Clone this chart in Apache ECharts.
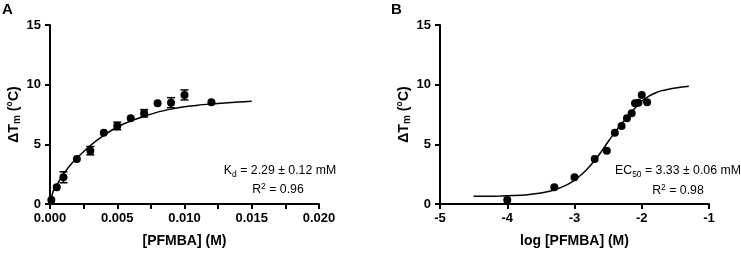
<!DOCTYPE html>
<html><head><meta charset="utf-8">
<script src="https://cdn.jsdelivr.net/npm/echarts@6/dist/echarts.min.js"></script>
<style>html,body{margin:0;padding:0;background:#fff}#c{width:741px;height:255px}</style>
</head><body><div id="c"></div>
<script>
// Panel A: concentration (M) vs ΔTm
const aConc = [0.0001, 0.0005, 0.001, 0.002, 0.003, 0.004, 0.005, 0.006, 0.007, 0.008, 0.009, 0.010, 0.012];
const aDTm  = [0.34, 1.40, 2.24, 3.77, 4.47, 5.98, 6.54, 7.18, 7.60, 8.44, 8.49, 9.14, 8.52];
const aErr  = [0, 0, 0.46, 0, 0.35, 0, 0.32, 0, 0.31, 0, 0.42, 0.42, 0];
// Panel A fitted curve
const aFitX = [0, 0.00025, 0.0005, 0.001, 0.0015, 0.002, 0.003, 0.004, 0.005, 0.006, 0.007, 0.008, 0.009, 0.010, 0.011, 0.012, 0.013, 0.014, 0.015];
const aFitY = [0, 1.1, 1.6, 2.5, 3.25, 3.85, 4.9, 5.75, 6.45, 6.95, 7.35, 7.7, 7.95, 8.15, 8.28, 8.38, 8.47, 8.54, 8.6];
// Panel B: log concentration vs ΔTm
const bLog = [-4.0, -3.30, -3.00, -2.70, -2.52, -2.40, -2.30, -2.22, -2.15, -2.10, -2.05, -2.00, -1.92];
const bDTm = [0.34, 1.40, 2.24, 3.77, 4.47, 5.98, 6.54, 7.18, 7.60, 8.44, 8.49, 9.14, 8.52];
// Panel B fitted curve
const bFitX = [-4.5, -4.3, -4.1, -3.9, -3.7, -3.5, -3.3, -3.1, -3.0, -2.9, -2.8, -2.7, -2.6, -2.5, -2.4, -2.3, -2.2, -2.1, -2.0, -1.9, -1.8, -1.7, -1.6, -1.5, -1.4, -1.3];
const bFitY = [0.64, 0.65, 0.67, 0.71, 0.78, 0.92, 1.18, 1.65, 2.01, 2.45, 3.0, 3.64, 4.4, 5.22, 6.0, 6.72, 7.4, 8.05, 8.62, 9.02, 9.3, 9.5, 9.62, 9.72, 9.8, 9.86];
// Tick settings
const yTicks = {min: 0, max: 15, interval: 5};
const aXTicks = {min: 0, max: 0.02, interval: 0.0025, labelEvery: 0.005};
const bXTicks = {min: -5, max: -1, interval: 1};

const FONT = 'Liberation Sans, Arial, sans-serif';
const axisLineStyle = {show: true, lineStyle: {color: '#000', width: 2}};
const tickStyle = {show: true, inside: false, length: 5, lineStyle: {color: '#000', width: 2}};
const labelStyle = {color: '#000', fontFamily: FONT, fontWeight: 'bold', fontSize: 13};
const nameStyleBase = {color: '#000', fontFamily: FONT, fontWeight: 'bold', fontSize: 14};
const yName = '{b|ΔT}{s|m}{b| (°C)}';
const yRich = {
  b: {fontFamily: FONT, fontWeight: 'bold', fontSize: 14, color: '#000', lineHeight: 16, verticalAlign: 'middle'},
  s: {fontFamily: FONT, fontWeight: 'bold', fontSize: 10, color: '#000', lineHeight: 10, verticalAlign: 'bottom'}
};

function yAxis(gi) {
  return {
    type: 'value', gridIndex: gi, min: yTicks.min, max: yTicks.max, interval: yTicks.interval,
    axisLine: axisLineStyle, axisTick: tickStyle, splitLine: {show: false},
    axisLabel: Object.assign({margin: 9}, labelStyle),
    name: yName, nameLocation: 'middle', nameGap: 27, nameRotate: 90,
    nameTextStyle: Object.assign({rich: yRich}, nameStyleBase)
  };
}

function annot(cx, cy, txt) {
  return {
    type: 'text', x: cx, y: cy, z: 10,
    style: {
      text: txt, align: 'center', verticalAlign: 'middle', fill: '#000',
      rich: {
        n: {fontFamily: FONT, fontSize: 12.3, color: '#000', lineHeight: 16, verticalAlign: 'middle'},
        s: {fontFamily: FONT, fontSize: 8.5, color: '#000', lineHeight: 9, verticalAlign: 'bottom'},
        p: {fontFamily: FONT, fontSize: 8.5, color: '#000', lineHeight: 9, verticalAlign: 'top'}
      }
    }
  };
}

const option = {
  animation: false,
  grid: [
    {left: 50, top: 25, width: 269, height: 179, containLabel: false},
    {left: 440, top: 25, width: 269, height: 179, containLabel: false}
  ],
  xAxis: [
    {
      type: 'value', gridIndex: 0, min: aXTicks.min, max: aXTicks.max, interval: aXTicks.interval,
      axisLine: axisLineStyle, axisTick: tickStyle, splitLine: {show: false},
      axisLabel: Object.assign({
        margin: 8,
        formatter: function (v) {
          const r = v / aXTicks.labelEvery;
          return Math.abs(r - Math.round(r)) < 1e-6 ? v.toFixed(3) : '';
        }
      }, labelStyle),
      name: '[PFMBA] (M)', nameLocation: 'middle', nameGap: 30, nameTextStyle: nameStyleBase
    },
    {
      type: 'value', gridIndex: 1, min: bXTicks.min, max: bXTicks.max, interval: bXTicks.interval,
      axisLine: axisLineStyle, axisTick: tickStyle, splitLine: {show: false},
      axisLabel: Object.assign({margin: 8}, labelStyle),
      name: 'log [PFMBA] (M)', nameLocation: 'middle', nameGap: 30, nameTextStyle: nameStyleBase
    }
  ],
  yAxis: [yAxis(0), yAxis(1)],
  series: [
    {
      type: 'line', xAxisIndex: 0, yAxisIndex: 0, smooth: 0.3, showSymbol: false, symbol: 'none',
      lineStyle: {color: '#000', width: 1.5}, data: aFitX.map((x, i) => [x, aFitY[i]]), z: 2
    },
    {
      type: 'custom', xAxisIndex: 0, yAxisIndex: 0, z: 3,
      data: aConc.map((x, i) => [x, aDTm[i], aErr[i]]),
      renderItem: function (params, api) {
        const x = api.value(0), y = api.value(1), e = api.value(2);
        if (!e) return null;
        const hi = api.coord([x, y + e]);
        const lo = api.coord([x, y - e]);
        const w = 4;
        const st = {stroke: '#000', lineWidth: 1.5};
        return {
          type: 'group', children: [
            {type: 'line', shape: {x1: hi[0], y1: hi[1], x2: lo[0], y2: lo[1]}, style: st},
            {type: 'line', shape: {x1: hi[0] - w, y1: hi[1], x2: hi[0] + w, y2: hi[1]}, style: st},
            {type: 'line', shape: {x1: lo[0] - w, y1: lo[1], x2: lo[0] + w, y2: lo[1]}, style: st}
          ]
        };
      }
    },
    {
      type: 'scatter', xAxisIndex: 0, yAxisIndex: 0, symbol: 'circle', symbolSize: 8, z: 4,
      itemStyle: {color: '#000', opacity: 1}, data: aConc.map((x, i) => [x, aDTm[i]])
    },
    {
      type: 'line', xAxisIndex: 1, yAxisIndex: 1, smooth: 0.3, showSymbol: false, symbol: 'none',
      lineStyle: {color: '#000', width: 1.5}, data: bFitX.map((x, i) => [x, bFitY[i]]), z: 2
    },
    {
      type: 'scatter', xAxisIndex: 1, yAxisIndex: 1, symbol: 'circle', symbolSize: 8, z: 4,
      itemStyle: {color: '#000', opacity: 1}, data: bLog.map((x, i) => [x, bDTm[i]])
    }
  ],
  graphic: [
    {type: 'text', x: 2, y: 2, style: {text: 'A', font: 'bold 15px ' + FONT, fill: '#000'}},
    {type: 'text', x: 391, y: 2, style: {text: 'B', font: 'bold 15px ' + FONT, fill: '#000'}},
    annot(280, 171, '{n|K}{s|d}{n| = 2.29 ± 0.12 mM}'),
    annot(278, 190, '{n|R}{p|2}{n| = 0.96}'),
    annot(678, 171, '{n|EC}{s|50}{n| = 3.33 ± 0.06 mM}'),
    annot(678, 191, '{n|R}{p|2}{n| = 0.98}')
  ]
};

const chart = echarts.init(document.getElementById('c'), null, {renderer: 'canvas'});
chart.setOption(option);
</script>
</body></html>
